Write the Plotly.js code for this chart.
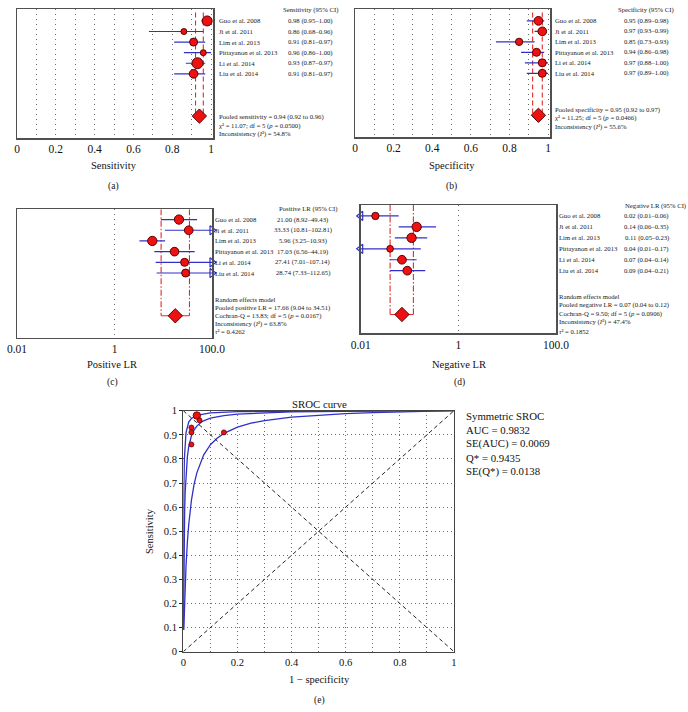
<!DOCTYPE html>
<html><head><meta charset="utf-8">
<script src="https://cdn.plot.ly/plotly-3.0.1.min.js"></script>
<style>html,body{margin:0;padding:0;background:#fff}#chart{width:688px;height:712px}</style>
</head><body><div id="chart"></div>
<script>
// ---------- helpers for italic text with an explicit size ----------
const it = s => '<span style="font-style:italic;font-size:6.7px">' + s + '</span>';
// ---------- data ----------
const studies = ['Guo et al. 2008','Ji et al. 2011','Lim et al. 2013','Pittayanon et al. 2013','Li et al. 2014','Liu et al. 2014'];
const sens   = [0.98,0.86,0.91,0.96,0.93,0.91];
const sensLo = [0.95,0.68,0.81,0.86,0.87,0.81];
const sensHi = [1.00,0.96,0.97,1.00,0.97,0.97];
const spec   = [0.95,0.97,0.85,0.94,0.97,0.97];
const specLo = [0.89,0.93,0.73,0.86,0.88,0.89];
const specHi = [0.98,0.99,0.93,0.98,1.00,1.00];
const plr    = [21.00,33.33,5.96,17.03,27.41,28.74];
const plrLo  = [8.92,10.81,3.25,6.56,7.01,7.33];
const plrHi  = [49.43,102.81,10.93,44.19,107.14,112.65];
const nlr    = [0.02,0.14,0.11,0.04,0.07,0.09];
const nlrLo  = [0.01,0.06,0.05,0.01,0.04,0.04];
const nlrHi  = [0.06,0.35,0.23,0.17,0.14,0.21];
const pooledSens = [0.94,0.92,0.96];
const pooledSpec = [0.95,0.92,0.97];
const pooledPlr  = [17.66,9.04,34.51];
const pooledNlr  = [0.07,0.04,0.12];
// relative study weights (marker scale)
const wSens = [10,6,8,6,11,8.7];
const wSpec = [8.7,8.7,7.3,8,8,8];
const wPlr  = [9.3,8.7,9.3,8.7,8,8];
const wNlr  = [7.3,9.3,9.3,6.7,8.7,8.7];
const wRoc  = [7.5,5,5,5,5,5];
// SROC curves (1-specificity, sensitivity)
const upperF = [0.0001,0.0003,0.0006,0.001,0.002,0.004,0.007,0.01,0.02,0.03,0.05,0.1,0.2,0.4,0.6,1];
const upperS = [0.090,0.229,0.373,0.498,0.665,0.800,0.875,0.909,0.953,0.968,0.981,0.991,0.996,0.998,0.999,1];
const midF = [0.00035,0.001,0.0015,0.002,0.003,0.004,0.005,0.007,0.01,0.015,0.02,0.03,0.04,0.05,0.065,0.075,0.1,0.15,0.2,0.3,0.4,0.5,0.6,0.8,1];
const midS = [0.090,0.218,0.295,0.358,0.456,0.528,0.583,0.663,0.738,0.809,0.850,0.896,0.921,0.936,0.951,0.958,0.969,0.980,0.986,0.992,0.995,0.996,0.998,0.999,1];
const lowF = [0.0018,0.005,0.01,0.015,0.02,0.03,0.04,0.05,0.065,0.075,0.1,0.125,0.15,0.2,0.25,0.3,0.4,0.5,0.6,0.7,0.8,0.9,1];
const lowS = [0.090,0.215,0.355,0.454,0.527,0.628,0.695,0.742,0.792,0.816,0.859,0.886,0.906,0.932,0.948,0.959,0.973,0.982,0.988,0.992,0.995,0.998,1];
const logTicks = [0.01,1,100];
const logLabels = ['0.01','1','100.0'];
const statsA = ['Pooled sensitivity = 0.94 (0.92 to 0.96)','χ² = 11.07; df = 5 (' + it('p') + ' = 0.0500)','Inconsistency (' + it('I') + '²) = 54.8%'];
const statsB = ['Pooled specificity = 0.95 (0.92 to 0.97)','χ² = 11.25; df = 5 (' + it('p') + ' = 0.0466)','Inconsistency (' + it('I') + '²) = 55.6%'];
const statsC = ['Random effects model','Pooled positive LR = 17.66 (9.04 to 34.51)','Cochran-Q = 13.83; df = 5 (' + it('p') + ' = 0.0167)','Inconsistency (' + it('I') + '²) = 63.8%',it('τ') + '² = 0.4262'];
const statsD = ['Random effects model','Pooled negative LR = 0.07 (0.04 to 0.12)','Cochran-Q = 9.50; df = 5 (' + it('p') + ' = 0.0906)','Inconsistency (' + it('I') + '²) = 47.4%',it('τ') + '² = 0.1852'];
const rocStats = ['Symmetric SROC','AUC = 0.9832','SE(AUC) = 0.0069','Q* = 0.9435','SE(Q*) = 0.0138'];

// ---------- layout helpers ----------
const W=688, H=712;
const px = v => v/W, py = v => 1 - v/H;
const FONT = '"Liberation Serif","Times New Roman",serif';
const RED='#ee1111', DRED='#5a0000', BLUE='#3030c8', LRED='#e02a2a';
const DOT = '1px,4px', GRIDC = '#6a6a6a';
const rows = studies.map((_, i) => i + 1);
const POOLROW = 10;
const traces = [];
const annotations = [];

function forest(ax, est, lo, hi, pooled, weights, o) {
  const xa = 'x' + ax, ya = 'y' + ax;
  const lx = [], ly = [], arR = {x:[],y:[]}, arL = {x:[],y:[]};
  est.forEach((v, i) => {
    let a = lo[i], b = hi[i];
    if (b >= o.max) { b = o.max; arR.x.push(o.max); arR.y.push(rows[i]); }
    if (a <= o.min) { a = o.min; arL.x.push(o.min); arL.y.push(rows[i]); }
    lx.push(a, b, null); ly.push(rows[i], rows[i], null);
  });
  traces.push({type:'scatter', mode:'lines', x:[pooled[1],pooled[1],null,pooled[2],pooled[2]], y:[o.top,POOLROW,null,o.top,POOLROW],
    xaxis:xa, yaxis:ya, line:{color:LRED, width:1.1, dash:o.dash}, hoverinfo:'skip'});
  if (o.poolLine) traces.push({type:'scatter', mode:'lines', x:[pooled[1],pooled[2]], y:[POOLROW,POOLROW], xaxis:xa, yaxis:ya,
    line:{color:LRED, width:1.1}, hoverinfo:'skip'});
  traces.push({type:'scatter', mode:'lines', x:lx, y:ly, xaxis:xa, yaxis:ya, line:{color:BLUE, width:1.2}, hoverinfo:'skip'});
  if (arR.x.length) traces.push({type:'scatter', mode:'markers', x:arR.x, y:arR.y, xaxis:xa, yaxis:ya, cliponaxis:false,
    marker:{symbol:'triangle-right-open', size:8, color:BLUE, opacity:1, line:{color:BLUE, width:1.2}}});
  if (arL.x.length) traces.push({type:'scatter', mode:'markers', x:arL.x, y:arL.y, xaxis:xa, yaxis:ya, cliponaxis:false,
    marker:{symbol:'triangle-left-open', size:8, color:BLUE, opacity:1, line:{color:BLUE, width:1.2}}});
  traces.push({type:'scatter', mode:'markers', x:est, y:rows, xaxis:xa, yaxis:ya, cliponaxis:false,
    marker:{size:weights, color:RED, opacity:1, line:{color:DRED, width:1}}});
  traces.push({type:'scatter', mode:'markers', x:[pooled[0]], y:[POOLROW], xaxis:xa, yaxis:ya, cliponaxis:false,
    marker:{symbol:'diamond', size:11, color:RED, opacity:1, line:{color:DRED, width:1}}});
  const f = o.dec;
  const tf = {family:FONT, size:6.7, color:'#1a1a1a'};
  studies.forEach((s, i) => {
    annotations.push({text:s, xref:'paper', yref:ya, x:px(o.labelX), y:rows[i], xanchor:'left', yanchor:'middle', showarrow:false, font:tf});
    annotations.push({text:est[i].toFixed(f)+' ('+lo[i].toFixed(f)+'–'+hi[i].toFixed(f)+')', xref:'paper', yref:ya, x:px(o.valX), y:rows[i],
      xanchor:'center', yanchor:'middle', showarrow:false, font:tf});
  });
  annotations.push({text:o.header, xref:'paper', yref:'paper', x:px(o.headX), y:py(o.headY), xanchor:'center', yanchor:'middle', showarrow:false, font:tf});
  o.stats.forEach((s, i) => annotations.push({text:s, xref:'paper', yref:'paper', x:px(o.labelX), y:py(o.statY[i]), xanchor:'left', yanchor:'middle', showarrow:false, font:tf}));
  annotations.push({text:o.title, xref:'paper', yref:'paper', x:px(o.titleX), y:py(o.titleY), xanchor:'center', yanchor:'middle', showarrow:false, font:{family:FONT, size:10.5, color:'#111'}});
  annotations.push({text:o.tag, xref:'paper', yref:'paper', x:px(o.titleX), y:py(o.tagY), xanchor:'center', yanchor:'middle', showarrow:false, font:{family:FONT, size:9.5, color:'#111'}});
}

forest('', sens, sensLo, sensHi, pooledSens, wSens, {min:-Infinity, max:Infinity, top:0.2, dash:'5px,3px', dec:2,
  labelX:217, valX:310, header:'Sensitivity (95% CI)', headX:310, headY:10, stats:statsA, statY:[117,125.7,134],
  title:'Sensitivity', titleX:114, titleY:166, tag:'(a)', tagY:186});
forest('2', spec, specLo, specHi, pooledSpec, wSpec, {min:-Infinity, max:Infinity, top:0.2, dash:'5px,3px', dec:2,
  labelX:553, valX:646, header:'Specificity (95% CI)', headX:646, headY:10, stats:statsB, statY:[110,118.3,127.3],
  title:'Specificity', titleX:452, titleY:166, tag:'(b)', tagY:186});
forest('3', plr, plrLo, plrHi, pooledPlr, wPlr, {min:0.01, max:100, top:0.04, dash:'6px,2px,1.5px,2px', dec:2, poolLine:true,
  labelX:213, valX:302.5, header:'Positive LR (95% CI)', headX:308, headY:209.5, stats:statsC, statY:[299,307.7,316,324.3,332],
  title:'Positive LR', titleX:112, titleY:365, tag:'(c)', tagY:382});
forest('4', nlr, nlrLo, nlrHi, pooledNlr, wNlr, {min:0.01, max:100, top:0, dash:'6px,2px,1.5px,2px', dec:2, poolLine:true,
  labelX:557, valX:646.5, header:'Negative LR (95% CI)', headX:655, headY:205.7, stats:statsD, statY:[296.7,305.3,314,322.3,331],
  title:'Negative LR', titleX:459, titleY:364.3, tag:'(d)', tagY:382});

// SROC
const fpr = spec.map(v => +(1 - v).toFixed(2));
[[upperF,upperS],[midF,midS],[lowF,lowS]].forEach(c => traces.push({type:'scatter', mode:'lines', x:c[0], y:c[1], xaxis:'x5', yaxis:'y5',
  line:{color:BLUE, width:1.3}, hoverinfo:'skip'}));
traces.push({type:'scatter', mode:'markers', x:fpr, y:sens, xaxis:'x5', yaxis:'y5', cliponaxis:false,
  marker:{size:wRoc, color:RED, opacity:1, line:{color:DRED, width:0.8}}});
annotations.push({text:'SROC curve', xref:'paper', yref:'paper', x:px(319), y:py(404), xanchor:'center', yanchor:'middle', showarrow:false, font:{family:FONT, size:10.8, color:'#111'}});
rocStats.forEach((s, i) => annotations.push({text:s, xref:'paper', yref:'paper', x:px(464), y:py([416,430,443.5,458,472][i]), xanchor:'left', yanchor:'middle', showarrow:false, font:{family:FONT, size:10.8, color:'#111'}}));
annotations.push({text:'1 − specificity', xref:'paper', yref:'paper', x:px(319), y:py(679), xanchor:'center', yanchor:'middle', showarrow:false, font:{family:FONT, size:10.5, color:'#111'}});
annotations.push({text:'(e)', xref:'paper', yref:'paper', x:px(319), y:py(700), xanchor:'center', yanchor:'middle', showarrow:false, font:{family:FONT, size:9.5, color:'#111'}});
annotations.push({text:'Sensitivity', xref:'paper', yref:'paper', x:px(149), y:py(531), textangle:-90, xanchor:'center', yanchor:'middle', showarrow:false, font:{family:FONT, size:10.5, color:'#111'}});

const shapes = [
  {type:'line', xref:'x5', yref:'y5', x0:0, y0:0, x1:1, y1:1, line:{color:'#222', width:1, dash:'4px,3px'}},
  {type:'line', xref:'x5', yref:'y5', x0:0, y0:1, x1:1, y1:0, line:{color:'#222', width:1, dash:'4px,3px'}}
];

const boxLine = {showline:true, mirror:true, linecolor:'#505050', linewidth:1.5, zeroline:false};
function fx(dom, anchor, extra) {
  return Object.assign({domain:dom, anchor:anchor, ticks:'', tickfont:{family:FONT, size:11.5, color:'#111'}, fixedrange:true}, boxLine, extra);
}
function fy(dom, anchor, range) {
  return Object.assign({domain:dom, anchor:anchor, range:range, showticklabels:false, showgrid:false, ticks:'', fixedrange:true}, boxLine);
}
const linX = {range:[0,1.01], tickmode:'linear', tick0:0, dtick:0.2, showgrid:true, gridcolor:GRIDC, griddash:DOT, gridwidth:1,
  minor:{tickmode:'linear', tick0:0, dtick:0.1, showgrid:true, gridcolor:GRIDC, griddash:DOT, gridwidth:1, ticks:''}};
const logX = {type:'log', range:[-2,2], tickmode:'array', tickvals:logTicks, ticktext:logLabels, showgrid:true, gridcolor:GRIDC, griddash:DOT, gridwidth:1};

const layout = {
  width:W, height:H, margin:{l:0,r:0,t:0,b:0}, paper_bgcolor:'#fff', plot_bgcolor:'#fff', showlegend:false,
  font:{family:FONT, color:'#111'},
  xaxis:  fx([px(17), px(213)], 'y', linX),
  yaxis:  fy([py(138), py(9.3)], 'x', [12.07,-0.1]),
  xaxis2: fx([px(355), px(550)], 'y2', linX),
  yaxis2: fy([py(137), py(9.3)], 'x2', [12.07,-0.1]),
  xaxis3: fx([px(17), px(212)], 'y3', logX),
  yaxis3: fy([py(337.7), py(209.3)], 'x3', [12.05,0.04]),
  xaxis4: fx([px(360.7), px(556)], 'y4', logX),
  yaxis4: fy([py(333.3), py(205)], 'x4', [11.72,0]),
  xaxis5: {domain:[px(183.3), px(454)], anchor:'y5', range:[0,1], tickmode:'linear', tick0:0, dtick:0.2,
    minor:{tickmode:'linear', tick0:0, dtick:0.1, showgrid:true, gridcolor:GRIDC, griddash:'1px,3px', gridwidth:1, ticks:''},
    showgrid:true, gridcolor:GRIDC, griddash:'1px,3px', gridwidth:1, zeroline:false, showline:true, mirror:true, linecolor:'#444', linewidth:1.2,
    ticks:'', tickfont:{family:FONT, size:10.6, color:'#111'}, fixedrange:true},
  yaxis5: {domain:[py(651.7), py(410.7)], anchor:'x5', range:[0,1], tickmode:'linear', tick0:0, dtick:0.1,
    showgrid:true, gridcolor:GRIDC, griddash:'1px,3px', gridwidth:1, zeroline:false, showline:true, mirror:true, linecolor:'#444', linewidth:1.2,
    ticks:'outside', ticklen:3, tickcolor:'#222', tickfont:{family:FONT, size:10.6, color:'#111'}, fixedrange:true},
  annotations: annotations,
  shapes: shapes
};
Plotly.newPlot('chart', traces, layout, {staticPlot:true, displayModeBar:false});
</script></body></html>
